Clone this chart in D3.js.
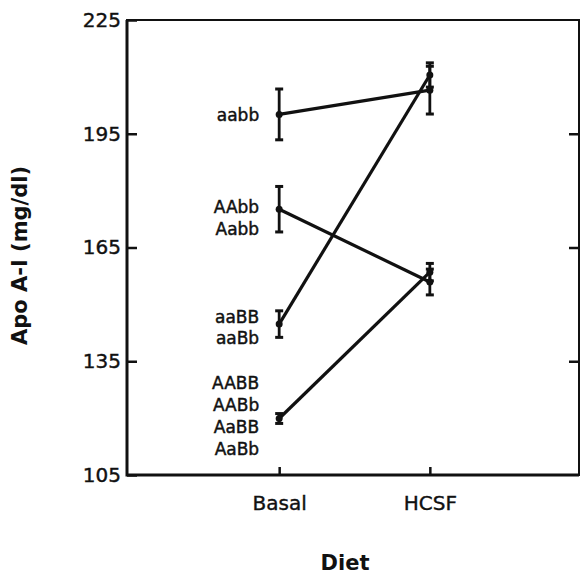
<!DOCTYPE html>
<html>
<head>
<meta charset="utf-8">
<script src="https://cdn.jsdelivr.net/npm/d3@7"></script>
<style>
  body { margin: 0; background: #fff; }
  text { font-family: "DejaVu Sans", sans-serif; fill: #111; }
</style>
</head>
<body>
<div id="chart"></div>
<script>
// genotype groups, means and error bars
var groupLabels = [["aabb"], ["AAbb", "Aabb"], ["aaBB", "aaBb"], ["AABB", "AABb", "AaBB", "AaBb"]];
var basalMean = [200.1, 175.1, 144.8, 119.9];
var basalErr = [6.7, 6.0, 3.5, 1.3];
var hcsfMean = [206.5, 155.9, 210.5, 158.5];
var hcsfErr = [6.3, 3.4, 3.2, 2.3];
// where each label block is centred (apo A-I units)
var labelAt = [200.1, 172.9, 143.9, 120.6];

var diets = ["Basal", "HCSF"];
var yTicks = [105, 135, 165, 195, 225];

var svgWidth = 580;
var svgHeight = 578;

var margin = { top: 20, right: 1, bottom: 103, left: 127 };
var width = svgWidth - margin.left - margin.right;
var height = svgHeight - margin.top - margin.bottom;

var svg = d3.select("#chart")
  .append("svg")
  .attr("width", svgWidth)
  .attr("height", svgHeight);

var chartGroup = svg.append("g")
  .attr("transform", `translate(${margin.left}, ${margin.top})`);

// scales: diets sit at positions 1 and 2
var xScale = d3.scaleLinear().domain([-0.01, 2.99]).range([0, width]);
var yScale = d3.scaleLinear().domain([105, 225]).range([height, 0]);

// left axis, ticks pointing inward
var leftAxis = d3.axisLeft(yScale)
  .tickValues(yTicks)
  .tickSize(-10)
  .tickPadding(6)
  .tickFormat(d3.format("d"));

var yAxis = chartGroup.append("g").call(leftAxis);
yAxis.select(".domain").remove();
yAxis.selectAll("line").attr("stroke", "#111").attr("stroke-width", 2.5);
yAxis.selectAll("text")
  .attr("font-size", "20px")
  .attr("stroke", "#111")
  .attr("stroke-width", 0.4)
  .style("font-family", "DejaVu Sans");

// right axis, ticks only
var rightAxis = d3.axisRight(yScale)
  .tickValues([135, 165, 195])
  .tickSize(-10)
  .tickFormat("");

var y2Axis = chartGroup.append("g")
  .attr("transform", `translate(${width}, 0)`)
  .call(rightAxis);
y2Axis.select(".domain").remove();
y2Axis.selectAll("line").attr("stroke", "#111").attr("stroke-width", 2.5);

// bottom axis
var bottomAxis = d3.axisBottom(xScale)
  .tickValues([1, 2])
  .tickSize(-8)
  .tickPadding(21)
  .tickFormat((d, i) => diets[i]);

var xAxis = chartGroup.append("g")
  .attr("transform", `translate(0, ${height})`)
  .call(bottomAxis);
xAxis.select(".domain").remove();
xAxis.selectAll("line").attr("stroke", "#111").attr("stroke-width", 2.5);
xAxis.selectAll("text")
  .attr("font-size", "20px")
  .attr("stroke", "#111")
  .attr("stroke-width", 0.4)
  .style("font-family", "DejaVu Sans");

// frame
chartGroup.append("rect")
  .attr("x", 0).attr("y", 0)
  .attr("width", width).attr("height", height)
  .attr("fill", "none")
  .attr("stroke", "#111")
  .attr("stroke-width", 2);

chartGroup.append("path")
  .attr("d", `M0,0V${height}H${width}`)
  .attr("fill", "none")
  .attr("stroke", "#111")
  .attr("stroke-width", 3);

// one row per group
var rows = basalMean.map((d, i) => ({
  labels: groupLabels[i],
  labelAt: labelAt[i],
  pts: [
    { x: 1, mean: basalMean[i], err: basalErr[i] },
    { x: 2, mean: hcsfMean[i], err: hcsfErr[i] }
  ]
}));

// connecting lines
var line = d3.line()
  .x(d => xScale(d.x))
  .y(d => yScale(d.mean));

chartGroup.selectAll(".conn")
  .data(rows)
  .enter()
  .append("path")
  .attr("class", "conn")
  .attr("d", d => line(d.pts))
  .attr("fill", "none")
  .attr("stroke", "#111")
  .attr("stroke-width", 3.2);

// error bars and points
var allPts = rows.flatMap(r => r.pts);

var bars = chartGroup.selectAll(".err")
  .data(allPts)
  .enter()
  .append("g")
  .attr("class", "err")
  .attr("stroke", "#111");

bars.append("line")
  .attr("x1", d => xScale(d.x)).attr("x2", d => xScale(d.x))
  .attr("y1", d => yScale(d.mean + d.err))
  .attr("y2", d => yScale(d.mean - d.err))
  .attr("stroke-width", 2.8);

bars.append("line")
  .attr("x1", d => xScale(d.x) - 4).attr("x2", d => xScale(d.x) + 4)
  .attr("y1", d => yScale(d.mean + d.err))
  .attr("y2", d => yScale(d.mean + d.err))
  .attr("stroke-width", 3);

bars.append("line")
  .attr("x1", d => xScale(d.x) - 4).attr("x2", d => xScale(d.x) + 4)
  .attr("y1", d => yScale(d.mean - d.err))
  .attr("y2", d => yScale(d.mean - d.err))
  .attr("stroke-width", 3);

chartGroup.selectAll(".pt")
  .data(allPts)
  .enter()
  .append("circle")
  .attr("class", "pt")
  .attr("cx", d => xScale(d.x))
  .attr("cy", d => yScale(d.mean))
  .attr("r", 3.5)
  .attr("fill", "#111");

// genotype labels left of the basal points
var lineGap = 21.7;
rows.forEach(function(r) {
  var n = r.labels.length;
  r.labels.forEach(function(lab, j) {
    chartGroup.append("text")
      .attr("x", xScale(1) - 20)
      .attr("y", yScale(r.labelAt) + (j - (n - 1) / 2) * lineGap)
      .attr("dy", "0.36em")
      .attr("text-anchor", "end")
      .attr("font-size", "17px")
      .attr("stroke", "#111")
      .attr("stroke-width", 0.45)
      .text(lab);
  });
});

// axis titles
svg.append("text")
  .attr("transform", `translate(27, ${margin.top + height / 2 + 8}) rotate(-90)`)
  .attr("text-anchor", "middle")
  .attr("font-size", "21px")
  .attr("font-weight", "bold")
  .text("Apo A-I (mg/dl)");

svg.append("text")
  .attr("x", 345)
  .attr("y", 570)
  .attr("text-anchor", "middle")
  .attr("font-size", "21px")
  .attr("font-weight", "bold")
  .text("Diet");
</script>
</body>
</html>
